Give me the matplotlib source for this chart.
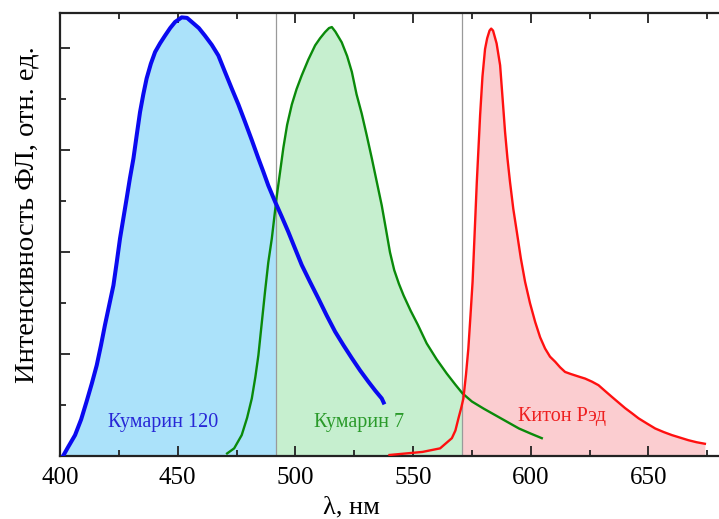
import numpy as np
import matplotlib
matplotlib.use("Agg")
import matplotlib.pyplot as plt
from matplotlib.ticker import MultipleLocator

plt.rcParams["font.family"] = ["Liberation Serif", "DejaVu Serif"]

# Coumarin 120 emission
c120_wl = [401.3, 403.5, 406.4, 409.0, 411.3, 413.5, 415.6, 417.4, 419.1, 420.9,
           422.7, 424.1, 425.5, 426.9, 428.3, 429.7, 431.2, 432.6, 434.0, 435.4,
           436.8, 438.6, 440.4, 442.5, 444.6, 446.8, 448.9, 451.7, 454.0, 456.5,
           459.0, 461.6, 464.5, 467.3, 470.0, 473.0, 475.8, 478.6, 481.5, 484.3,
           486.4, 488.5, 491.4, 494.2, 497.0, 499.8, 502.7, 506.2, 509.8, 513.3,
           516.9, 520.5, 524.0, 527.5, 531.0, 534.0, 536.7, 537.5]
c120_int = [0.00, 0.18, 0.41, 0.72, 1.07, 1.42, 1.78, 2.17, 2.57, 2.96,
            3.35, 3.80, 4.27, 4.66, 5.05, 5.45, 5.84, 6.30, 6.75, 7.10,
            7.41, 7.70, 7.93, 8.10, 8.25, 8.40, 8.52, 8.61, 8.60, 8.50,
            8.40, 8.25, 8.07, 7.86, 7.55, 7.21, 6.90, 6.56, 6.20, 5.84,
            5.58, 5.31, 4.99, 4.70, 4.40, 4.08, 3.75, 3.42, 3.09, 2.76,
            2.44, 2.17, 1.92, 1.68, 1.46, 1.28, 1.13, 1.05]

# Coumarin 7 emission
c7_wl = [471.0, 474.0, 477.2, 479.5, 481.5, 483.0, 484.3, 485.7, 487.1, 488.5,
         490.0, 492.1, 494.9, 496.5, 498.5, 500.5, 502.7, 505.5, 508.4, 510.5,
         512.6, 514.3, 515.5, 517.0, 519.7, 522.0, 524.0, 526.0, 528.2, 530.3,
         532.5, 534.6, 536.7, 538.5, 540.2, 542.0, 544.0, 546.0, 549.0, 552.0,
         555.8, 560.0, 564.3, 568.0, 571.0, 575.0, 580.0, 585.0, 590.0, 595.0,
         600.0, 604.7]
c7_int = [0.05, 0.15, 0.41, 0.75, 1.13, 1.55, 1.98, 2.60, 3.22, 3.80,
          4.27, 5.10, 6.05, 6.50, 6.90, 7.20, 7.47, 7.78, 8.06, 8.20,
          8.32, 8.40, 8.42, 8.33, 8.12, 7.85, 7.54, 7.10, 6.72, 6.30,
          5.84, 5.38, 4.92, 4.45, 4.00, 3.65, 3.38, 3.15, 2.85, 2.58,
          2.21, 1.90, 1.62, 1.40, 1.23, 1.07, 0.93, 0.80, 0.67, 0.54,
          0.44, 0.35]

# Kiton Red emission
kr_wl = [540.0, 554.0, 561.5, 566.5, 568.0, 569.3, 570.5, 571.4, 572.5, 573.5,
         574.4, 575.3, 576.2, 577.1, 578.5, 579.5, 580.6, 581.5, 582.5, 583.2,
         584.0, 585.5, 587.0, 588.0, 589.1, 590.1, 591.2, 592.6, 594.1, 595.8,
         597.6, 599.7, 601.9, 604.0, 606.1, 608.2, 610.4, 612.5, 614.6, 617.0,
         619.0, 621.0, 623.1, 626.0, 628.8, 631.5, 634.5, 637.3, 640.1, 643.0,
         645.8, 649.3, 652.9, 656.5, 660.0, 663.5, 667.0, 670.5, 674.0]
kr_int = [0.02, 0.08, 0.15, 0.35, 0.50, 0.74, 0.95, 1.13, 1.60, 2.11,
          2.75, 3.42, 4.40, 5.38, 6.69, 7.45, 7.99, 8.20, 8.35, 8.39,
          8.35, 8.10, 7.67, 7.05, 6.36, 5.85, 5.38, 4.85, 4.40, 3.88,
          3.42, 3.00, 2.63, 2.33, 2.11, 1.95, 1.85, 1.74, 1.65, 1.61,
          1.58, 1.55, 1.52, 1.46, 1.39, 1.28, 1.16, 1.05, 0.94, 0.84,
          0.74, 0.64, 0.54, 0.47, 0.41, 0.36, 0.31, 0.27, 0.24]

# Spectral band boundaries
borders = [491.8, 570.7]

labels = ["Кумарин 120", "Кумарин 7", "Китон Рэд"]

fig = plt.figure(figsize=(7.19, 5.19), dpi=100)
ax = fig.add_axes([60 / 719, 1 - 456 / 519, 659 / 719, 442.7 / 519])
ax.set_xlim(400, 680)
ax.set_ylim(0, 8.69)


def band_fill(wl, val, lo, hi, color):
    wl = np.asarray(wl)
    val = np.asarray(val)
    xs = np.concatenate(([lo], wl[(wl > lo) & (wl < hi)], [hi]))
    ys = np.interp(xs, wl, val, left=0.0, right=0.0)
    ax.fill_between(xs, 0, ys, color=color, lw=0, zorder=1)


band_fill(c120_wl, c120_int, 400.0, borders[0], "#abe2fa")
band_fill(c7_wl, c7_int, borders[0], borders[1], "#c6efcf")
band_fill(kr_wl, kr_int, borders[1], max(kr_wl), "#fbcdd0")

for b in borders:
    ax.axvline(b, color="#9a9a9a", lw=0.9, zorder=2)

ax.plot(c7_wl, c7_int, color="#0a8a0a", lw=1.7, zorder=3)
ax.plot(kr_wl, kr_int, color="#ff1010", lw=1.7, zorder=4)
ax.plot(c120_wl, c120_int, color="#0a0af0", lw=2.9, zorder=5)

ax.text(443.8, 0.66, labels[0], color="#2727d6", fontsize=14.5, ha="center", va="center", zorder=6)
ax.text(527.0, 0.66, labels[1], color="#2a9a2a", fontsize=14.5, ha="center", va="center", zorder=6)
ax.text(613.3, 0.78, labels[2], color="#ee2020", fontsize=14.5, ha="center", va="center", zorder=6)

ax.xaxis.set_major_locator(MultipleLocator(50))
ax.xaxis.set_minor_locator(MultipleLocator(25))
ax.yaxis.set_major_locator(MultipleLocator(2))
ax.yaxis.set_minor_locator(MultipleLocator(1))
ax.tick_params(which="both", direction="in", top=True, right=False, width=1.3, color="#222222")
ax.tick_params(which="major", length=7)
ax.tick_params(which="minor", length=4)
ax.tick_params(axis="x", labelsize=18, pad=8)
ax.set_yticklabels([])
for s in ["left", "bottom", "top"]:
    ax.spines[s].set_linewidth(1.6)
    ax.spines[s].set_color("#222222")
ax.spines["right"].set_visible(False)

ax.set_xlabel("λ, нм", fontsize=19)
ax.xaxis.set_label_coords(0.4416, -0.0925)
ax.set_ylabel("Интенсивность ФЛ, отн. ед.", fontsize=20.5)
ax.yaxis.set_label_coords(-0.031, 0.545)

fig.savefig("out.png", dpi=100)
